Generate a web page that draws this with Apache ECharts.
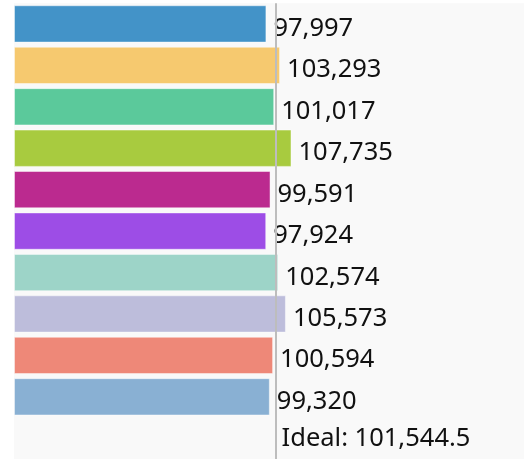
<!DOCTYPE html>
<html>
<head>
<meta charset="utf-8">
<script src="https://cdn.jsdelivr.net/npm/echarts@6/dist/echarts.min.js"></script>
<style>
html,body{margin:0;padding:0;background:#fff;}
#chart{width:524px;height:459px;}
</style>
</head>
<body>
<div id="chart"></div>
<script>
const categories = ['District 1','District 2','District 3','District 4','District 5','District 6','District 7','District 8','District 9','District 10','Ideal'];
const values = [97997, 103293, 101017, 107735, 99591, 97924, 102574, 105573, 100594, 99320];
const colors = ['#4393c8','#f6c96f','#5bc99b','#a8cb3f','#bb2a8f','#9d4de6','#9dd4c8','#bdbddb','#ee8878','#89b0d3'];
const idealValue = 101544.5;
const idealLabel = 'Ideal';

const fmt = v => Number(v).toLocaleString('en-US');
const barData = values.map((v, i) => ({value: v, itemStyle: {color: colors[i]}}));
barData.push({
  value: idealValue,
  itemStyle: {color: 'rgba(0,0,0,0)', borderWidth: 0},
  label: {offset: [-1, 0.8], formatter: () => idealLabel + ': ' + fmt(idealValue)}
});

const chart = echarts.init(document.getElementById('chart'), null, {renderer:'canvas'});
chart.setOption({
  animation: false,
  grid: {left: 14, right: 0, top: 3.2, height: 462, show: true, backgroundColor: '#f9f9f9', borderWidth: 0},
  xAxis: {type: 'value', min: 0, max: 198000, show: false},
  yAxis: {type: 'category', data: categories, inverse: true, show: false},
  series: [
    {
      type: 'bar',
      barWidth: 37.3,
      data: barData,
      itemStyle: {borderColor: 'rgba(255,255,255,0.45)', borderWidth: 1},
      label: {show: true, position: 'right', distance: 7, offset: [0, 4.8], color: '#111', fontFamily: 'Noto Sans', fontSize: 25.5, formatter: p => fmt(p.value)},
      markLine: {
        silent: true, symbol: 'none', label: {show: false},
        lineStyle: {color: '#bdbdbd', width: 2, type: 'solid'},
        data: [{xAxis: idealValue}]
      }
    }
  ]
});
</script>
</body>
</html>
